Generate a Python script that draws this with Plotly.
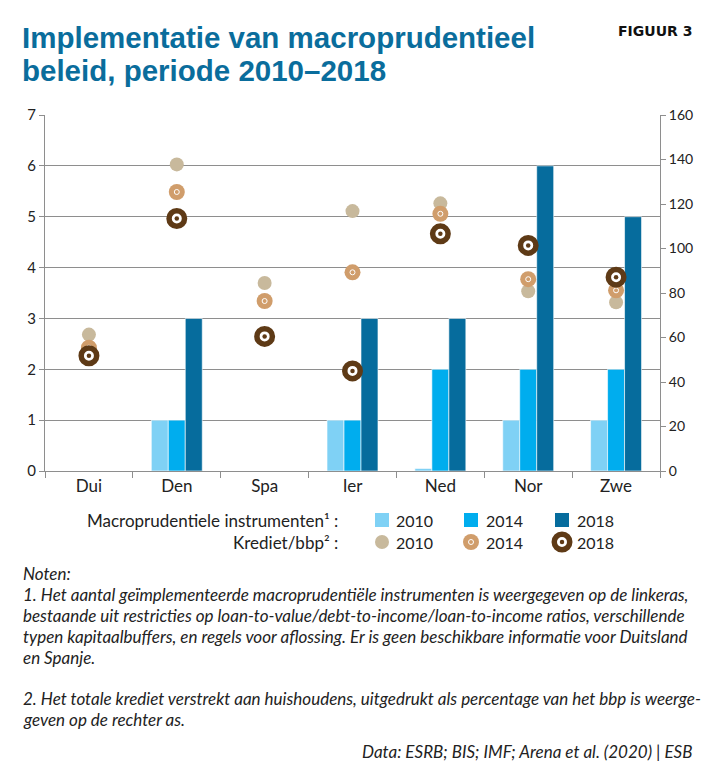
import plotly.graph_objects as go

# ---------------- data ----------------
categories = ["Dui", "Den", "Spa", "Ier", "Ned", "Nor", "Zwe"]
instr_2010 = [None, 1, None, 1, 0.05, 1, 1]
instr_2014 = [None, 1, None, 1, 2, 2, 2]
instr_2018 = [None, 3, None, 3, 3, 6, 5]
krediet_2010 = [61.3, 137.8, 84.5, 116.8, 120.3, 80.8, 75.8]
krediet_2014 = [55.4, 125.4, 76.4, 89.3, 115.6, 86.2, 81.2]
krediet_2018 = [51.8, 113.5, 60.5, 45.0, 106.6, 101.4, 87.1]
left_ticks = [0, 1, 2, 3, 4, 5, 6, 7]
right_ticks = [0, 20, 40, 60, 80, 100, 120, 140, 160]
years = ["2010", "2014", "2018"]

# ---------------- style ----------------
OFF = 8                      # default page body margin
WIN_W, WIN_H = 712, 770
W, H = WIN_W - OFF, WIN_H - OFF
# plot area in window pixel coordinates
L, R, T, B = 45, 660, 115, 471
BAR_COLS = ["#7fd1f5", "#00adee", "#066c9d"]
C10, C14, C18 = "#c8b99c", "#d09d6b", "#5e3a16"
GRID = "#8e8e8e"
TXT = "#222222"
BODY_FONT = "Lato"


def px(x):
    return (x - L) / (R - L)


def py(y):
    return (B - y) / (B - T)


fig = go.Figure()

for vals, col, yr in zip([instr_2010, instr_2014, instr_2018], BAR_COLS, years):
    fig.add_trace(go.Bar(x=categories, y=vals, marker=dict(color=col, line=dict(color="white", width=0.6)),
                         name=yr, showlegend=False))

# krediet markers (right axis)
fig.add_trace(go.Scatter(x=categories, y=krediet_2010, yaxis="y2", mode="markers",
                         marker=dict(size=14, color=C10), showlegend=False))
fig.add_trace(go.Scatter(x=categories, y=krediet_2014, yaxis="y2", mode="markers",
                         marker=dict(size=16, color=C14), showlegend=False))
fig.add_trace(go.Scatter(x=categories, y=krediet_2014, yaxis="y2", mode="markers",
                         marker=dict(size=5, symbol="circle-open", color="white", line=dict(width=1)),
                         showlegend=False))
fig.add_trace(go.Scatter(x=categories, y=krediet_2018, yaxis="y2", mode="markers",
                         marker=dict(size=15.5, color="white", line=dict(color=C18, width=5.5)),
                         showlegend=False))
fig.add_trace(go.Scatter(x=categories, y=krediet_2018, yaxis="y2", mode="markers",
                         marker=dict(size=4.5, color=C18), showlegend=False))

shapes = []
annotations = []

# frame
shapes.append(dict(type="rect", xref="paper", yref="paper", x0=px(6.5), x1=px(706), y0=py(800), y1=py(7),
                   line=dict(color="#222222", width=1.5), fillcolor="rgba(0,0,0,0)", layer="above"))

# titles
TITLE_FONT = dict(family="Liberation Sans", size=29.5, color="#0a6d9c")
annotations.append(dict(text="<b>Implementatie van macroprudentieel</b>", xref="paper", yref="paper",
                        x=px(20), y=py(37), xanchor="left", yanchor="middle", showarrow=False,
                        font=TITLE_FONT))
annotations.append(dict(text="<b>beleid, periode 2010–2018</b>", xref="paper", yref="paper",
                        x=px(20), y=py(71), xanchor="left", yanchor="middle", showarrow=False,
                        font=TITLE_FONT))
annotations.append(dict(text="<b>FIGUUR 3</b>", xref="paper", yref="paper",
                        x=px(694), y=py(31), xanchor="right", yanchor="middle", showarrow=False,
                        font=dict(family="DejaVu Sans", size=14, color="#111111")))

# legend
leg_font = dict(family=BODY_FONT, size=17, color=TXT)
row1, row2 = 520, 542
annotations.append(dict(text="Macroprudentiele instrumenten¹ :", xref="paper", yref="paper",
                        x=px(340), y=py(row1), xanchor="right", yanchor="middle", showarrow=False, font=leg_font))
annotations.append(dict(text="Krediet/bbp² :", xref="paper", yref="paper",
                        x=px(340), y=py(row2), xanchor="right", yanchor="middle", showarrow=False, font=leg_font))
sw_x = [382, 471, 562]
tx_x = [394, 484, 575]
for i, yr in enumerate(years):
    shapes.append(dict(type="rect", xref="paper", yref="paper", xsizemode="pixel", ysizemode="pixel",
                       xanchor=px(sw_x[i]), yanchor=py(row1), x0=-7, x1=7, y0=-7, y1=7,
                       fillcolor=BAR_COLS[i], line=dict(width=0)))
    for r in (row1, row2):
        annotations.append(dict(text=yr, xref="paper", yref="paper", x=px(tx_x[i]), y=py(r),
                                xanchor="left", yanchor="middle", showarrow=False,
                                font=dict(family=BODY_FONT, size=16, color=TXT)))


def circ(cx, cy, rad, fill, line_col=None, lw=0):
    return dict(type="circle", xref="paper", yref="paper", xsizemode="pixel", ysizemode="pixel",
                xanchor=px(cx), yanchor=py(cy), x0=-rad, x1=rad, y0=-rad, y1=rad,
                fillcolor=fill, line=dict(color=line_col or fill, width=lw))


shapes.append(circ(sw_x[0], row2, 7, C10))
shapes.append(circ(sw_x[1], row2, 8, C14))
shapes.append(circ(sw_x[1], row2, 2.5, "rgba(0,0,0,0)", "white", 1))
shapes.append(circ(sw_x[2], row2, 7.75, "white", C18, 5.5))
shapes.append(circ(sw_x[2], row2, 2.25, C18))

# notes
notes = [
    (573, "Noten:"),
    (594, "1. Het aantal geïmplementeerde macroprudentiële instrumenten is weergegeven op de linkeras,"),
    (615, "bestaande uit restricties op loan-to-value/debt-to-income/loan-to-income ratios, verschillende"),
    (636, "typen kapitaalbuffers, en regels voor aflossing. Er is geen beschikbare informatie voor Duitsland"),
    (657, "en Spanje."),
    (698, "2. Het totale krediet verstrekt aan huishoudens, uitgedrukt als percentage van het bbp is weerge-"),
    (719, "geven op de rechter as."),
]
NOTE_FONT = dict(family=BODY_FONT, size=17, color=TXT)
for yy, t in notes:
    annotations.append(dict(text="<i>" + t + "</i>", xref="paper", yref="paper", x=px(21), y=py(yy),
                            xanchor="left", yanchor="middle", showarrow=False, font=NOTE_FONT))
annotations.append(dict(text="<i>Data: ESRB; BIS; IMF; Arena et al. (2020) | ESB</i>", xref="paper", yref="paper",
                        x=px(694), y=py(751), xanchor="right", yanchor="middle", showarrow=False,
                        font=NOTE_FONT))

fig.update_layout(
    width=W, height=H,
    margin=dict(l=L - OFF, r=WIN_W - R, t=T - OFF, b=WIN_H - B, pad=0),
    paper_bgcolor="white", plot_bgcolor="white",
    barmode="group", bargap=0.42, bargroupgap=0,
    font=dict(family=BODY_FONT, size=15, color=TXT),
    xaxis=dict(type="category", categoryorder="array", categoryarray=categories,
               tickson="boundaries", ticks="outside", ticklen=6, tickcolor=GRID,
               showline=True, linecolor=GRID, linewidth=1, showgrid=False,
               tickfont=dict(family=BODY_FONT, size=17, color=TXT)),
    yaxis=dict(range=[0, 7], tickvals=left_ticks, ticktext=[str(v) for v in left_ticks],
               showgrid=True, gridcolor=GRID, gridwidth=1, zeroline=False,
               ticks="outside", ticklen=5, tickcolor=GRID,
               showline=True, linecolor=GRID, linewidth=1,
               tickfont=dict(family=BODY_FONT, size=15, color=TXT)),
    yaxis2=dict(range=[0, 160], tickvals=right_ticks, ticktext=[str(v) for v in right_ticks],
                overlaying="y", side="right", showgrid=False, zeroline=False,
                ticks="outside", ticklen=5, tickcolor=GRID,
                showline=True, linecolor=GRID, linewidth=1,
                tickfont=dict(family=BODY_FONT, size=14, color=TXT)),
    shapes=shapes, annotations=annotations, showlegend=False,
)

fig.write_html("out.html")
